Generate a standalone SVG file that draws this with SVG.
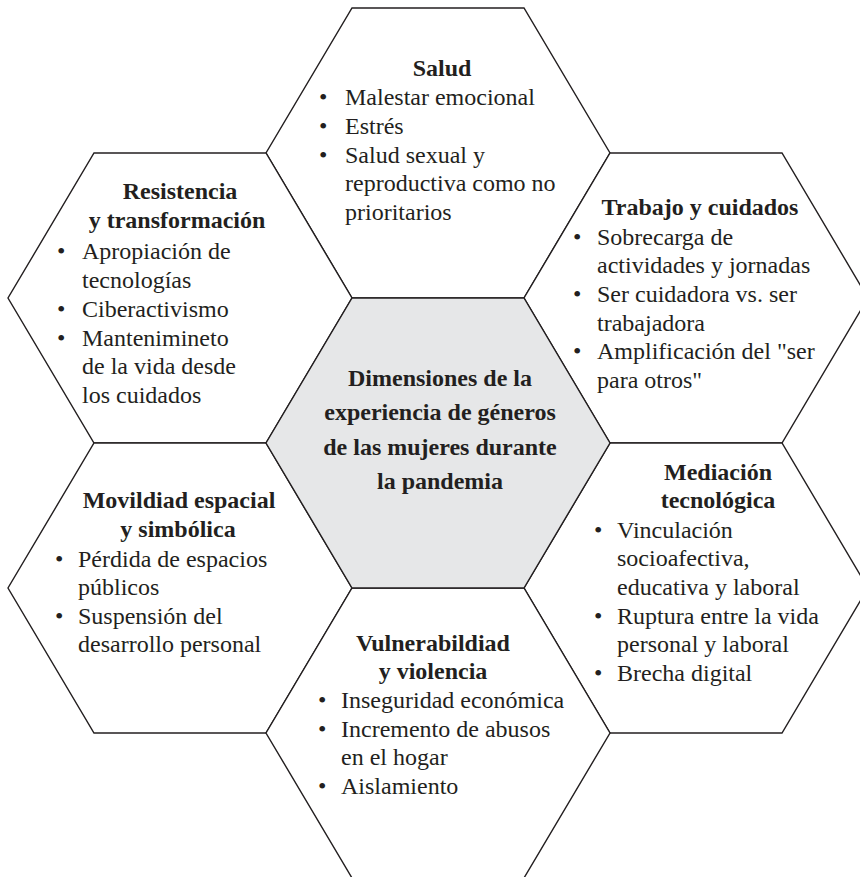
<svg xmlns="http://www.w3.org/2000/svg" width="860" height="877" viewBox="0 0 860 877">
<style>
.hex{fill:#ffffff;stroke:#231f20;stroke-width:1.4;stroke-linejoin:miter}
.ctr{fill:#e6e7e8}
text{font-family:"Liberation Serif","Times New Roman",serif;font-size:24px;fill:#231f20}
.t{font-weight:bold;text-anchor:middle}
</style>
<rect width="860" height="877" fill="#ffffff"/>
<g id="connectors"></g>
<g id="salud">
<polygon class="hex" points="352,8 524,8 610,153 524,298 352,298 266,153"/>
<text class="t" x="442" y="76">Salud</text>
<text x="319" y="105">•</text><text x="345" y="105">Malestar emocional</text>
<text x="319" y="134">•</text><text x="345" y="134">Estrés</text>
<text x="319" y="163">•</text><text x="345" y="163">Salud sexual y</text>
<text x="345" y="191">reproductiva como no</text>
<text x="345" y="220">prioritarios</text>
</g>
<g id="resistencia">
<polygon class="hex" points="94,153 266,153 352,298 266,443 94,443 8,298"/>
<text class="t" x="180" y="199">Resistencia</text>
<text class="t" x="177" y="228">y transformación</text>
<text x="57" y="259">•</text><text x="82" y="259">Apropiación de</text>
<text x="82" y="288">tecnologías</text>
<text x="57" y="317">•</text><text x="82" y="317">Ciberactivismo</text>
<text x="57" y="346">•</text><text x="82" y="346">Mantenimineto</text>
<text x="82" y="374">de la vida desde</text>
<text x="82" y="403">los cuidados</text>
</g>
<g id="trabajo">
<polygon class="hex" points="610,153 782,153 868,298 782,443 610,443 524,298"/>
<text class="t" x="700" y="215">Trabajo y cuidados</text>
<text x="573" y="245">•</text><text x="597" y="245">Sobrecarga de</text>
<text x="597" y="273">actividades y jornadas</text>
<text x="573" y="302">•</text><text x="597" y="302">Ser cuidadora vs. ser</text>
<text x="597" y="331">trabajadora</text>
<text x="573" y="359">•</text><text x="597" y="359">Amplificación del "ser</text>
<text x="597" y="388">para otros"</text>
</g>
<g id="movilidad">
<polygon class="hex" points="94,443 266,443 352,588 266,733 94,733 8,588"/>
<text class="t" x="179" y="508">Movildiad espacial</text>
<text class="t" x="178" y="537">y simbólica</text>
<text x="55" y="567">•</text><text x="78" y="567">Pérdida de espacios</text>
<text x="78" y="595">públicos</text>
<text x="55" y="624">•</text><text x="78" y="624">Suspensión del</text>
<text x="78" y="652">desarrollo personal</text>
</g>
<g id="mediacion">
<polygon class="hex" points="610,443 782,443 868,588 782,733 610,733 524,588"/>
<text class="t" x="718" y="480">Mediación</text>
<text class="t" x="718" y="508">tecnológica</text>
<text x="594" y="538">•</text><text x="617" y="538">Vinculación</text>
<text x="617" y="566">socioafectiva,</text>
<text x="617" y="595">educativa y laboral</text>
<text x="594" y="624">•</text><text x="617" y="624">Ruptura entre la vida</text>
<text x="617" y="652">personal y laboral</text>
<text x="594" y="681">•</text><text x="617" y="681">Brecha digital</text>
</g>
<g id="vulnerabilidad">
<polygon class="hex" points="352,588 524,588 610,733 524,878 352,878 266,733"/>
<text class="t" x="433" y="651">Vulnerabildiad</text>
<text class="t" x="433" y="679">y violencia</text>
<text x="318" y="708">•</text><text x="341" y="708">Inseguridad económica</text>
<text x="318" y="737">•</text><text x="341" y="737">Incremento de abusos</text>
<text x="341" y="765">en el hogar</text>
<text x="318" y="794">•</text><text x="341" y="794">Aislamiento</text>
</g>
<g id="centro">
<polygon class="hex ctr" points="352,298 524,298 610,443 524,588 352,588 266,443"/>
<text class="t" x="440" y="386">Dimensiones de la</text>
<text class="t" x="440" y="420">experiencia de géneros</text>
<text class="t" x="440" y="455">de las  mujeres durante</text>
<text class="t" x="440" y="489">la pandemia</text>
</g>
</svg>
